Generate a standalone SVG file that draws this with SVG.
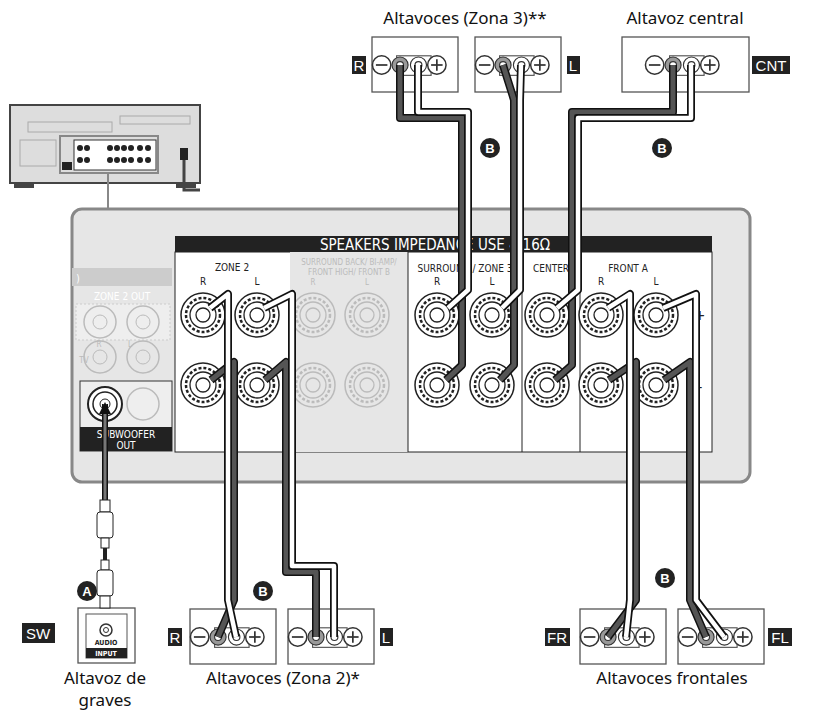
<svg xmlns="http://www.w3.org/2000/svg" width="818" height="712" viewBox="0 0 818 712">
<style>
.t{font-family:"Noto Sans","Open Sans",sans-serif;font-size:17px;fill:#111;text-anchor:middle}
.s{font-family:"DejaVu Sans Condensed","Liberation Sans",sans-serif;font-stretch:condensed;font-size:10px;fill:#222;text-anchor:middle}
.f{font-family:"DejaVu Sans Condensed","Liberation Sans",sans-serif;font-stretch:condensed;font-size:8px;fill:#bbb;text-anchor:middle}
.box{fill:#fff;stroke:#555;stroke-width:1.3}
.lab{fill:#222}
.labt{font-family:"Liberation Sans",sans-serif;font-size:15px;fill:#fff;text-anchor:middle}
.bk{stroke:#111;stroke-width:8;fill:none;stroke-linejoin:round}
.dk{stroke:#555;stroke-width:5;fill:none;stroke-linejoin:round}
.wh{stroke:#fff;stroke-width:4.5;fill:none;stroke-linejoin:round}
.circ{fill:#222}
.ct{font-family:"Liberation Sans",sans-serif;font-weight:bold;font-size:13px;fill:#fff;text-anchor:middle}
</style>
<defs>
<g id="term"><circle r="22" fill="#fff" stroke="#222" stroke-width="1.5"/><circle r="17" fill="none" stroke="#222" stroke-width="2.5" stroke-dasharray="3 2"/><circle r="13" fill="#fff" stroke="#222" stroke-width="1.3"/><circle r="7" fill="#fff" stroke="#222" stroke-width="1.3"/></g>
<g id="termf"><circle r="22" fill="none" stroke="#bbb" stroke-width="1.5"/><circle r="17" fill="none" stroke="#bbb" stroke-width="2.5" stroke-dasharray="3 2"/><circle r="13" fill="none" stroke="#bbb" stroke-width="1.3"/><circle r="7" fill="none" stroke="#bbb" stroke-width="1.3"/></g>
<g id="inner"><g transform="scale(1.15)"><rect x="-16" y="-8" width="30" height="17" fill="#fff" stroke="#555"/><circle cx="-29" r="8" fill="#fff" stroke="#333" stroke-width="1.3"/><line x1="-34" x2="-24" stroke="#333" stroke-width="1.5"/><circle cx="-13" r="7" fill="#999" stroke="#333"/><circle cx="-13" r="3" fill="#fff" stroke="#333"/><circle cx="3" r="7" fill="#fff" stroke="#333"/><circle cx="3" r="3" fill="#fff" stroke="#333"/><circle cx="19" r="8" fill="#fff" stroke="#333" stroke-width="1.3"/><line x1="14" x2="24" stroke="#333" stroke-width="1.5"/><line x1="19" y1="-5" x2="19" y2="5" stroke="#333" stroke-width="1.5"/></g></g>
<g id="spk"><rect x="-43" y="-28" width="86" height="55" class="box"/><use href="#inner"/></g>
</defs>

<g id="receiver">
<rect x="10" y="105" width="190" height="78" fill="#ddd" stroke="#444" stroke-width="2"/>
<rect x="14" y="183" width="20" height="5" fill="#444"/><rect x="176" y="183" width="20" height="5" fill="#444"/>
<rect x="28" y="122" width="84" height="10" fill="none" stroke="#aaa"/><rect x="120" y="116" width="70" height="8" fill="none" stroke="#aaa"/>
<rect x="20" y="140" width="36" height="26" fill="none" stroke="#aaa"/>
<rect x="60" y="136" width="98" height="37" fill="#ddd" stroke="#888" stroke-width="2"/>
<rect x="74" y="140" width="82" height="30" fill="#fff" stroke="#333"/>
<g fill="#222"><circle cx="80" cy="148" r="3"/><circle cx="87" cy="148" r="3"/><circle cx="80" cy="160" r="3"/><circle cx="87" cy="160" r="3"/><circle cx="110" cy="148" r="3"/><circle cx="117" cy="148" r="3"/><circle cx="124" cy="148" r="3"/><circle cx="131" cy="148" r="3"/><circle cx="140" cy="148" r="3"/><circle cx="148" cy="148" r="3"/><circle cx="110" cy="160" r="3"/><circle cx="117" cy="160" r="3"/><circle cx="124" cy="160" r="3"/><circle cx="131" cy="160" r="3"/><circle cx="140" cy="160" r="3"/><circle cx="148" cy="160" r="3"/></g>
<rect x="62" y="162" width="10" height="8" fill="#222"/>
<rect x="180" y="148" width="8" height="12" fill="#222"/>
<path d="M184 160 V190 H200" fill="none" stroke="#444" stroke-width="3"/>
<line x1="108" y1="173" x2="108" y2="209" stroke="#888" stroke-width="2"/>
</g>

<g id="panel">
<rect x="72" y="209" width="678" height="273" rx="10" fill="#e6e6e6" stroke="#888" stroke-width="3"/>
<rect x="72" y="268" width="100" height="18" fill="#ccc"/>
<text x="78" y="282" class="s" style="fill:#fff">)</text>
<text x="122" y="300" class="s" style="fill:#fff">ZONE 2 OUT</text>
<rect x="76" y="304" width="94" height="36" fill="#eee" stroke="#ccc" stroke-dasharray="2 2"/>
<circle cx="100" cy="322" r="16" fill="none" stroke="#bbb" stroke-width="1.5"/><circle cx="100" cy="322" r="7" fill="none" stroke="#bbb"/>
<circle cx="143" cy="322" r="16" fill="none" stroke="#bbb" stroke-width="1.5"/><circle cx="143" cy="322" r="7" fill="none" stroke="#bbb"/>
<text x="99" y="347" class="f">R</text><text x="130" y="347" class="f">L</text><text x="84" y="363" class="f">TV</text>
<circle cx="100" cy="357" r="16" fill="none" stroke="#bbb" stroke-width="1.5"/><circle cx="100" cy="357" r="7" fill="none" stroke="#bbb"/>
<circle cx="143" cy="357" r="16" fill="none" stroke="#bbb" stroke-width="1.5"/><circle cx="143" cy="357" r="7" fill="none" stroke="#bbb"/>
<rect x="80" y="381" width="92" height="70" fill="#eee" stroke="#333"/>
<circle cx="105" cy="404" r="17" fill="#fff" stroke="#222" stroke-width="2"/><circle cx="105" cy="404" r="12" fill="#fff" stroke="#222" stroke-width="1.5"/><circle cx="105" cy="404" r="5" fill="#fff" stroke="#222"/>
<circle cx="143" cy="404" r="16" fill="none" stroke="#bbb" stroke-width="1.5"/>
<rect x="80" y="427" width="92" height="24" fill="#222"/>
<text x="126" y="438" class="s" style="fill:#fff">SUBWOOFER</text><text x="126" y="449" class="s" style="fill:#fff">OUT</text>

<rect x="175" y="236" width="537" height="16" fill="#222"/>
<text x="435" y="250" class="s" style="fill:#fff;font-size:15px">SPEAKERS  IMPEDANCE USE 4-16Ω</text>
<rect x="175" y="252" width="537" height="200" fill="#fff" stroke="#222"/>
<rect x="290" y="252" width="118" height="200" fill="#e6e6e6"/>
<line x1="522" y1="252" x2="522" y2="452" stroke="#222"/><line x1="580" y1="252" x2="580" y2="452" stroke="#222"/><line x1="408" y1="252" x2="408" y2="452" stroke="#222"/>
<text x="232" y="271" class="s">ZONE 2</text><text x="203" y="285" class="s">R</text><text x="257" y="285" class="s">L</text>
<text x="349" y="265" class="f">SURROUND BACK/ BI-AMP/</text><text x="349" y="275" class="f">FRONT HIGH/ FRONT B</text><text x="313" y="285" class="f">R</text><text x="367" y="285" class="f">L</text>
<text x="465" y="272" class="s">SURROUND / ZONE 3</text><text x="437" y="285" class="s">R</text><text x="492" y="285" class="s">L</text>
<text x="551" y="272" class="s">CENTER</text>
<text x="628" y="272" class="s">FRONT A</text><text x="601" y="285" class="s">R</text><text x="656" y="285" class="s">L</text>
<text x="700" y="320" class="s" style="font-size:14px">+</text><text x="700" y="392" class="s" style="font-size:14px">-</text>
<use href="#term" x="203" y="315"/><use href="#term" x="257" y="315"/><use href="#termf" x="313" y="315"/><use href="#termf" x="367" y="315"/><use href="#term" x="437" y="315"/><use href="#term" x="492" y="315"/><use href="#term" x="547" y="315"/><use href="#term" x="601" y="315"/><use href="#term" x="656" y="315"/>
<use href="#term" x="203" y="385"/><use href="#term" x="257" y="385"/><use href="#termf" x="313" y="385"/><use href="#termf" x="367" y="385"/><use href="#term" x="437" y="385"/><use href="#term" x="492" y="385"/><use href="#term" x="547" y="385"/><use href="#term" x="601" y="385"/><use href="#term" x="656" y="385"/>
</g>

<g id="speakers">
<g id="sp-z3r"><use href="#spk" x="415" y="65"/><rect x="352" y="56" width="14" height="18" class="lab"/><text x="359" y="71" class="labt">R</text></g>
<g id="sp-z3l"><use href="#spk" x="518" y="65"/><rect x="567" y="56" width="13" height="18" class="lab"/><text x="573" y="71" class="labt">L</text></g>
<g id="sp-cnt"><rect x="622" y="37" width="127" height="55" class="box"/><use href="#inner" x="688" y="65"/><rect x="752" y="56" width="38" height="18" class="lab"/><text x="771" y="71" class="labt">CNT</text></g>
<g id="sp-z2r"><use href="#spk" x="233" y="637"/><rect x="168" y="628" width="14" height="18" class="lab"/><text x="175" y="643" class="labt">R</text></g>
<g id="sp-z2l"><use href="#spk" x="331" y="637"/><rect x="380" y="628" width="13" height="18" class="lab"/><text x="386" y="643" class="labt">L</text></g>
<g id="sp-fr"><use href="#spk" x="623" y="637"/><rect x="545" y="628" width="25" height="18" class="lab"/><text x="557" y="643" class="labt">FR</text></g>
<g id="sp-fl"><use href="#spk" x="721" y="637"/><rect x="768" y="628" width="24" height="18" class="lab"/><text x="780" y="643" class="labt">FL</text></g>
<g id="sp-sw"><rect x="78" y="608" width="57" height="55" class="box"/><rect x="86" y="614" width="41" height="44" fill="#fff" stroke="#555"/><circle cx="106" cy="630" r="6" fill="#fff" stroke="#333" stroke-width="1.5"/><circle cx="106" cy="630" r="2.5" fill="#fff" stroke="#333"/><text x="106" y="645" class="s" style="font-size:7px;font-weight:bold">AUDIO</text><rect x="86" y="648" width="41" height="10" fill="#222"/><text x="106" y="656" class="s" style="font-size:7px;font-weight:bold;fill:#fff">INPUT</text><rect x="22" y="623" width="33" height="20" class="lab"/><text x="38" y="639" class="labt">SW</text></g>
</g>

<g id="connectors">
<g id="cable-sw"><line x1="105" y1="404" x2="105" y2="500" stroke="#111" stroke-width="6"/><line x1="105" y1="404" x2="105" y2="500" stroke="#777" stroke-width="3"/><rect x="100" y="500" width="10" height="12" fill="#fff" stroke="#222"/><rect x="97" y="512" width="16" height="26" rx="3" fill="#fff" stroke="#222"/><rect x="101" y="538" width="8" height="10" fill="#fff" stroke="#222"/><rect x="101" y="560" width="8" height="10" fill="#fff" stroke="#222"/><rect x="97" y="570" width="16" height="26" rx="3" fill="#fff" stroke="#222"/><rect x="100" y="596" width="10" height="12" fill="#fff" stroke="#222"/><line x1="105" y1="548" x2="105" y2="560" stroke="#222" stroke-width="4"/><polygon points="105,402 99,414 111,414" fill="#111"/></g>
<path class="bk" d="M400 65 V118 H462 V365 L446 380"/><path class="dk" d="M400 65 V118 H462 V365 L446 380"/>
<path class="bk" d="M418 65 V112 H468 V290 L448 308"/><path class="wh" d="M418 65 V112 H468 V290 L448 308"/>
<path class="bk" d="M503 65 L514 100 V365 L500 380"/><path class="dk" d="M503 65 L514 100 V365 L500 380"/>
<path class="bk" d="M521 65 L520 100 V290 L502 308"/><path class="wh" d="M521 65 L520 100 V290 L502 308"/>
<path class="bk" d="M673 65 V112 H572 V365 L555 380"/><path class="dk" d="M673 65 V112 H572 V365 L555 380"/>
<path class="bk" d="M691 65 V118 H578 V290 L557 308"/><path class="wh" d="M691 65 V118 H578 V290 L557 308"/>
<path class="bk" d="M211 380 L234 362 V600 L218 637"/><path class="dk" d="M211 380 L234 362 V600 L218 637"/>
<path class="bk" d="M210 308 L228 294 V600 L236 637"/><path class="wh" d="M210 308 L228 294 V600 L236 637"/>
<path class="bk" d="M265 380 L286 362 V572 H316 V637"/><path class="dk" d="M265 380 L286 362 V572 H316 V637"/>
<path class="bk" d="M264 308 L292 294 V566 H334 V637"/><path class="wh" d="M264 308 L292 294 V566 H334 V637"/>
<path class="bk" d="M609 380 L636 362 V600 L608 637"/><path class="dk" d="M609 380 L636 362 V600 L608 637"/>
<path class="bk" d="M608 308 L630 294 V600 L626 637"/><path class="wh" d="M608 308 L630 294 V600 L626 637"/>
<path class="bk" d="M664 380 L690 362 V600 L706 637"/><path class="dk" d="M664 380 L690 362 V600 L706 637"/>
<path class="bk" d="M663 308 L696 294 V600 L724 637"/><path class="wh" d="M663 308 L696 294 V600 L724 637"/>
</g>

<g id="badges">
<circle cx="87" cy="591" r="10" class="circ"/><text x="87" y="596" class="ct">A</text>
<circle cx="263" cy="591" r="10" class="circ"/><text x="263" y="596" class="ct">B</text>
<circle cx="665" cy="578" r="10" class="circ"/><text x="665" y="583" class="ct">B</text>
<circle cx="490" cy="148" r="10" class="circ"/><text x="490" y="153" class="ct">B</text>
<circle cx="662" cy="148" r="10" class="circ"/><text x="662" y="153" class="ct">B</text>
</g>

<g id="titles">
<text x="465" y="24" class="t">Altavoces (Zona 3)**</text>
<text x="685" y="24" class="t">Altavoz central</text>
<text x="105" y="684" class="t">Altavoz de</text>
<text x="105" y="706" class="t">graves</text>
<text x="283" y="684" class="t">Altavoces (Zona 2)*</text>
<text x="672" y="684" class="t">Altavoces frontales</text>
</g>
</svg>
